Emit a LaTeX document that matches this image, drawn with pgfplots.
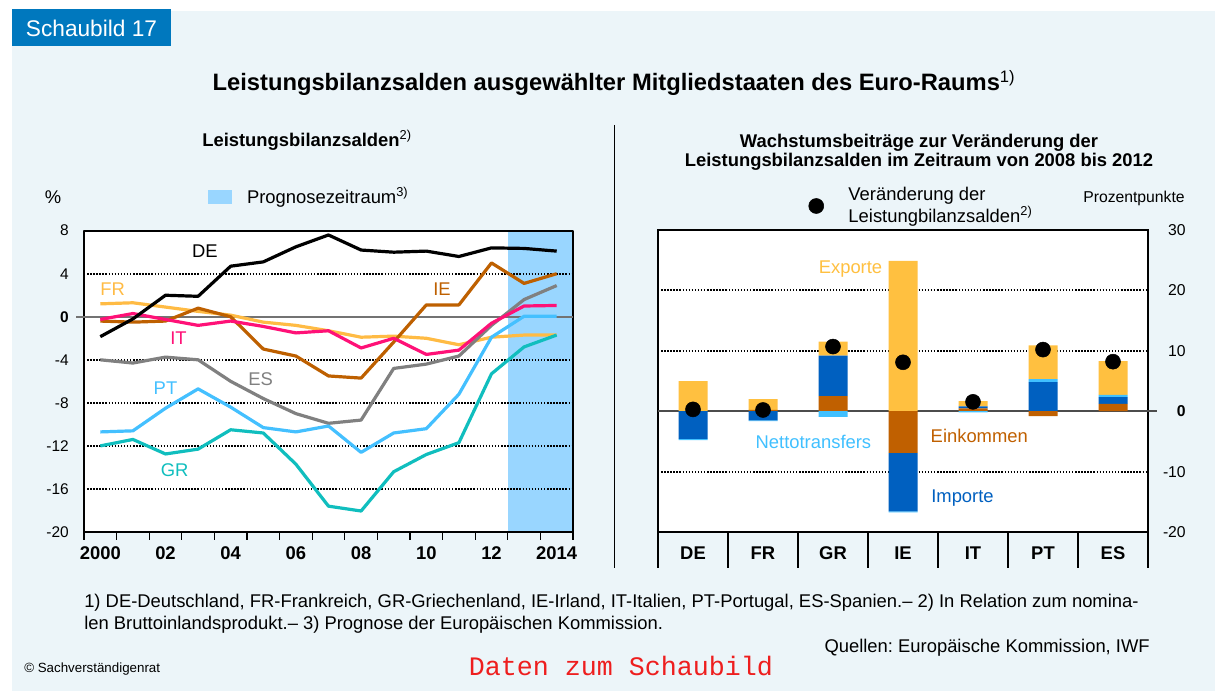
\documentclass[border=0pt]{standalone}
\usepackage{pgfplots}
\pgfplotsset{compat=1.18}
\usepackage{pgfplotstable}
\usepackage{fontspec}
\setmainfont{Liberation Sans}
\newfontfamily\monofont{Liberation Mono}
\frenchspacing
\definecolor{bgpanel}{RGB}{236,245,249}
\definecolor{boxblue}{RGB}{0,120,190}
\definecolor{fcst}{RGB}{153,214,255}
\definecolor{cDE}{RGB}{0,0,0}
\definecolor{cFR}{RGB}{255,187,68}
\definecolor{cIT}{RGB}{255,17,119}
\definecolor{cIE}{RGB}{190,96,0}
\definecolor{cES}{RGB}{128,128,128}
\definecolor{cPT}{RGB}{68,192,255}
\definecolor{cGR}{RGB}{16,190,190}
\definecolor{cExp}{RGB}{255,192,64}
\definecolor{cEin}{RGB}{192,96,0}
\definecolor{cImp}{RGB}{0,96,192}
\definecolor{cNet}{RGB}{64,192,255}
\newcommand{\fmain}{\fontsize{13.8pt}{16.5pt}\selectfont}
\newcommand{\ftitle}{\fontsize{17.8pt}{21pt}\selectfont}
\newcommand{\fschau}{\fontsize{17pt}{20pt}\selectfont}
\newcommand{\fsmall}{\fontsize{11.8pt}{14pt}\selectfont}
\newcommand{\fytl}{\fontsize{11.6pt}{14pt}\selectfont}
\newcommand{\fcopy}{\fontsize{10pt}{12pt}\selectfont}
\newcommand{\fdaten}{\fontsize{20pt}{24pt}\selectfont}

\pgfplotstableread{
year DE FR IT IE ES PT GR
2000 -1.85 1.2 -0.25 -0.4 -4.0 -10.7 -12.0
2001 -0.2 1.3 0.3 -0.5 -4.3 -10.6 -11.4
2002 2.0 0.9 -0.25 -0.4 -3.75 -8.5 -12.75
2003 1.9 0.5 -0.8 0.8 -4.0 -6.7 -12.3
2004 4.7 0.15 -0.4 0.0 -6.0 -8.4 -10.5
2005 5.1 -0.5 -0.9 -3.0 -7.6 -10.3 -10.8
2006 6.5 -0.8 -1.5 -3.65 -9.0 -10.7 -13.7
2007 7.6 -1.3 -1.3 -5.5 -9.9 -10.15 -17.6
2008 6.2 -1.9 -2.9 -5.7 -9.6 -12.6 -18.05
2009 6.0 -1.8 -2.0 -2.35 -4.8 -10.8 -14.4
2010 6.1 -2.0 -3.5 1.1 -4.4 -10.4 -12.8
2011 5.6 -2.6 -3.1 1.1 -3.65 -7.2 -11.7
2012 6.4 -1.9 -0.6 5.0 -0.8 -1.9 -5.3
2013 6.35 -1.7 1.0 3.1 1.6 0.05 -2.8
2014 6.1 -1.7 1.05 4.0 2.9 0.05 -1.7
}\lsdata

\pgfplotstableread{
x Ein Imp Net Exp
0 0 0 0 5.0
1 0.2 0 0 1.8
2 2.5 6.7 0 2.3
3 0 0 0 24.9
4 0.45 0.35 0 0.85
5 0 4.8 0.5 5.6
6 1.2 1.15 0.35 5.6
}\barpos

\pgfplotstableread{
x Ein Imp Net
0 0 -4.6 -0.2
1 0 -1.5 -0.15
2 0 0 -0.95
3 -6.9 -9.7 -0.15
4 0 0 -0.2
5 -0.8 0 0
6 0 0 0
}\barneg

\pgfplotstableread{
x v
0 0.3
1 0.2
2 10.7
3 8.1
4 1.55
5 10.2
6 8.2
}\chgdata

\begin{document}
\begin{tikzpicture}
\useasboundingbox (0pt,0pt) rectangle (911.25pt,-518.25pt);
\begin{scope}[x=0.75pt,y=-0.75pt]
\fill[white] (0,0) rectangle (1215,691);
\fill[bgpanel] (12,11) rectangle (1215,691);
\fill[boxblue] (12,9) rectangle (171,46);
\node[text=white, font=\fschau, inner sep=0pt] at (91.5,28) {Schaubild 17};
\node[anchor=base, font=\ftitle\bfseries, inner sep=0pt] at (614,91) {Leistungsbilanzsalden ausgewählter Mitgliedstaaten des Euro-Raums\textsuperscript{\mdseries 1)}};
\node[anchor=base, font=\fmain\bfseries, inner sep=0pt] at (307,146.6) {Leistungsbilanzsalden\textsuperscript{\mdseries 2)}};
\node[anchor=base, font=\fmain\bfseries, inner sep=0pt] at (919,147.6) {Wachstumsbeiträge zur Veränderung der};
\node[anchor=base, font=\fmain\bfseries, inner sep=0pt] at (919,166.6) {Leistungsbilanzsalden im Zeitraum von 2008 bis 2012};
\draw[black, line width=0.75pt] (614,125) -- (614,568);
\fill[white] (84,231) rectangle (573,532);
\node[anchor=base, font=\fmain, inner sep=0pt] at (53,204) {\%};
\node[anchor=base east, font=\fsmall, inner sep=0pt] at (1185,202.7) {Prozentpunkte};
\node[anchor=base west, font=\fmain, inner sep=0pt] at (84,607.6) {1) DE-Deutschland, FR-Frankreich, GR-Griechenland, IE-Irland, IT-Italien, PT-Portugal, ES-Spanien.– 2) In Relation zum nomina-};
\node[anchor=base west, font=\fmain, inner sep=0pt] at (84,629.6) {len Bruttoinlandsprodukt.– 3) Prognose der Europäischen Kommission.};
\node[anchor=base east, font=\fmain, inner sep=0pt] at (1150,652.6) {Quellen: Europäische Kommission, IWF};
\node[anchor=base west, font=\fcopy, inner sep=0pt] at (24,672) {© Sachverständigenrat};
\node[anchor=base, font=\fdaten\monofont, text={rgb,255:red,238;green,30;blue,30}, inner sep=0pt] at (621,675.6) {Daten zum Schaubild};
\end{scope}

% ---------- left: forecast shading ----------
\begin{axis}[
  at={(63pt,-399pt)}, anchor=south west,
  scale only axis, width=366.75pt, height=226pt,
  xmin=1999.5, xmax=2014.5, ymin=-20, ymax=8,
  hide axis,
  legend cell align=left,
  legend style={at={(0.2536,1.113)}, anchor=west, draw=none, fill=none,
    inner sep=0pt, outer sep=0pt, nodes={inner sep=0pt}, font=\fmain},
  legend image code/.code={\fill[fcst] (0pt,-5.25pt) rectangle (18pt,5.25pt); \path (29.25pt,0pt);},
]
\addplot[fill=fcst, draw=none] coordinates {(2012.5,-20) (2012.5,8) (2014.5,8) (2014.5,-20)} -- cycle;
\addlegendentry{Prognosezeitraum\textsuperscript{3)}}
\end{axis}

% ---------- left: main ----------
\begin{axis}[
  at={(63pt,-399pt)}, anchor=south west,
  scale only axis, width=366.75pt, height=226pt,
  xmin=1999.5, xmax=2014.5, ymin=-20, ymax=8,
  axis line style={line width=1.5pt, black},
  tick align=outside,
  xtick={1999.5,2000.5,...,2014.5}, xticklabels={},
  xtick pos=lower, ytick pos=lower,
  x tick style={line width=1pt, black},
  major tick length=6pt,
  extra x ticks={2000,2002,2004,2006,2008,2010,2012,2014},
  extra x tick labels={\textbf{2000},\textbf{02},\textbf{04},\textbf{06},\textbf{08},\textbf{10},\textbf{12},\textbf{2014}},
  extra x tick style={grid=none, major tick length=0pt,
    xticklabel style={font=\fmain, anchor=base, inner sep=0pt, yshift=-20.7pt}},
  ytick={-20,-16,-12,-8,-4,4,8},
  yticklabels={-20,-16,-12,-8,-4,4,8},
  y tick style={draw=none},
  yticklabel style={font=\fytl, anchor=east, inner sep=0pt, xshift=-5.25pt},
  ymajorgrids,
  major grid style={black, line width=1.4pt, dash pattern=on 1.1pt off 1.2pt},
  extra y ticks={0}, extra y tick labels={\textbf{0}},
  extra y tick style={grid=major, major grid style={solid, black!55, line width=1.3pt}},
  line join=round,
  clip=false,
]
\draw[black!55, line width=1.3pt] (axis cs:1999.5,0) -- ++(-6pt,0pt);
\addplot[cFR, line width=2.4pt] table[x=year,y=FR]{\lsdata};
\addplot[cIE, line width=2.4pt] table[x=year,y=IE]{\lsdata};
\addplot[cES, line width=2.4pt] table[x=year,y=ES]{\lsdata};
\addplot[cPT, line width=2.4pt] table[x=year,y=PT]{\lsdata};
\addplot[cGR, line width=2.4pt] table[x=year,y=GR]{\lsdata};
\addplot[cIT, line width=2.4pt] table[x=year,y=IT]{\lsdata};
\addplot[cDE, line width=2.4pt] table[x=year,y=DE]{\lsdata};
\node[font=\fmain, text=cDE] at (axis cs:2003.21,6.05) {DE};
\node[font=\fmain, text=cFR] at (axis cs:2000.38,2.58) {FR};
\node[font=\fmain, text=cIT] at (axis cs:2002.4,-2.0) {IT};
\node[font=\fmain, text=cES] at (axis cs:2004.92,-5.77) {ES};
\node[font=\fmain, text=cPT] at (axis cs:2002.0,-6.61) {PT};
\node[font=\fmain, text=cGR] at (axis cs:2002.28,-14.25) {GR};
\node[font=\fmain, text=cIE] at (axis cs:2010.48,2.53) {IE};
\end{axis}

% ---------- right: main with positive stack ----------
\begin{axis}[
  at={(493.5pt,-399pt)}, anchor=south west,
  scale only axis, width=367.5pt, height=226.5pt,
  xmin=-0.5, xmax=6.5, ymin=-20, ymax=30,
  axis background/.style={fill=white},
  axis line style={line width=1.5pt, black},
  tick align=outside,
  xtick={-0.5,0.5,...,6.5}, xticklabels={}, xtick pos=lower,
  x tick style={line width=1pt, black}, major tick length=27pt,
  extra x ticks={0,1,2,3,4,5,6},
  extra x tick labels={\textbf{DE},\textbf{FR},\textbf{GR},\textbf{IE},\textbf{IT},\textbf{PT},\textbf{ES}},
  extra x tick style={grid=none, major tick length=0pt,
    xticklabel style={font=\fmain, anchor=base, inner sep=0pt, yshift=-20.7pt}},
  ytick={-20,-10,10,20,30}, yticklabels={-20,-10,10,20,30},
  ytick pos=upper, yticklabel pos=upper,
  y tick style={draw=none},
  yticklabel style={font=\fsmall, anchor=east, inner sep=0pt, xshift=1.5pt},
  ymajorgrids,
  major grid style={black, line width=1.4pt, dash pattern=on 1.1pt off 1.2pt},
  extra y ticks={0}, extra y tick labels={\textbf{0}},
  extra y tick style={grid=major, major grid style={solid, black!70, line width=1.3pt}},
  ybar stacked, bar width=21.75pt,
  clip=false,
]
\addplot[fill=cEin, draw=none] table[x=x,y=Ein]{\barpos};
\addplot[fill=cImp, draw=none] table[x=x,y=Imp]{\barpos};
\addplot[fill=cNet, draw=none] table[x=x,y=Net]{\barpos};
\addplot[fill=cExp, draw=none] table[x=x,y=Exp]{\barpos};
\draw[black!70, line width=1.3pt] (axis cs:6.5,0) -- ++(6.75pt,0pt);
\node[font=\fmain, text=cExp] at (axis cs:2.25,23.6) {Exporte};
\node[font=\fmain, text=cNet] at (axis cs:1.72,-5.1) {Nettotransfers};
\node[font=\fmain, text=cEin] at (axis cs:4.09,-4.1) {Einkommen};
\node[font=\fmain, text=cImp] at (axis cs:3.85,-14.4) {Importe};
\end{axis}

% ---------- right: negative stack ----------
\begin{axis}[
  at={(493.5pt,-399pt)}, anchor=south west,
  scale only axis, width=367.5pt, height=226.5pt,
  xmin=-0.5, xmax=6.5, ymin=-20, ymax=30,
  hide axis, ybar stacked, bar width=21.75pt,
]
\addplot[fill=cEin, draw=none] table[x=x,y=Ein]{\barneg};
\addplot[fill=cImp, draw=none] table[x=x,y=Imp]{\barneg};
\addplot[fill=cNet, draw=none] table[x=x,y=Net]{\barneg};
\end{axis}

% ---------- right: dots and legend ----------
\begin{axis}[
  at={(493.5pt,-399pt)}, anchor=south west,
  scale only axis, width=367.5pt, height=226.5pt,
  xmin=-0.5, xmax=6.5, ymin=-20, ymax=30,
  hide axis,
  legend cell align=left,
  legend style={at={(0.3071,1.0795)}, anchor=west, draw=none, fill=none,
    inner sep=0pt, outer sep=0pt, nodes={inner sep=0pt, align=left}, font=\fmain},
  legend image code/.code={\fill[black] (5.625pt,0pt) circle (5.625pt); \path (29.6pt,0pt);},
]
\addplot[only marks, mark=*, mark size=5.625pt, black] table[x=x,y=v]{\chgdata};
\addlegendentry{Veränderung der\\Leistungbilanzsalden\textsuperscript{2)}}
\end{axis}
\end{tikzpicture}
\end{document}
